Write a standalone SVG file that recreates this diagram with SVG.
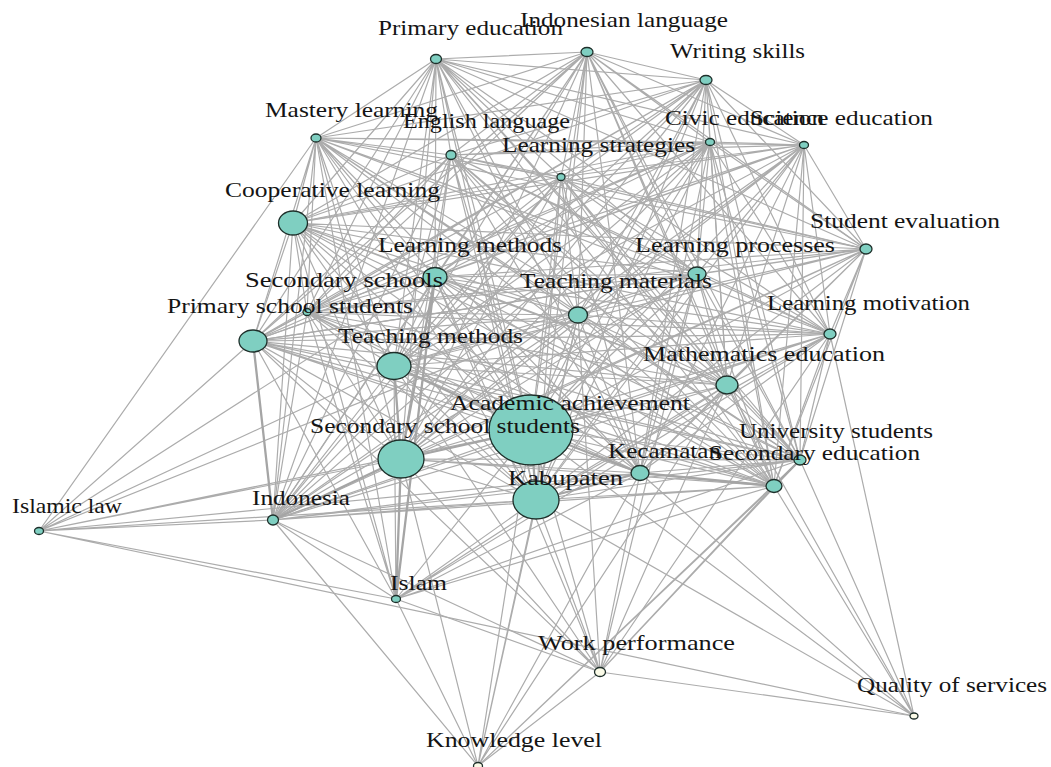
<svg xmlns="http://www.w3.org/2000/svg" width="1051" height="767" viewBox="0 0 1051 767">
<style>
.e{fill:none;stroke:#acacac;stroke-width:1.2}
.t{fill:none;stroke:#a5a5a5;stroke-width:2.3}
.n ellipse{fill:#7fcfc1;stroke:#1e2f2a;stroke-width:1.3}
.w ellipse{fill:#fbfbe8;stroke:#1e2f2a;stroke-width:1.3}
text{font-family:"Liberation Serif","Times New Roman",serif;font-size:22px;fill:#141414}
</style>
<rect width="1051" height="767" fill="#ffffff"/>
<g id="connectors">
<path class="e" d="M436 59L587 52M436 59L706 80M436 59L316 138M436 59L451 155M436 59L710 142M436 59L804 145M436 59L561 177M436 59L293 223M436 59L866 249M436 59L435 277M436 59L697 274M436 59L307 312M436 59L578 315M436 59L253 341M436 59L830 334M436 59L394 366M436 59L727 385M436 59L531 430M436 59L401 459M436 59L800 460M436 59L640 473M436 59L774 486M436 59L536 500M436 59L273 520"/>
<path class="e" d="M587 52L706 80M587 52L316 138M587 52L451 155M587 52L710 142M587 52L804 145M587 52L561 177M587 52L293 223M587 52L866 249M587 52L435 277M587 52L697 274M587 52L307 312M587 52L578 315M587 52L253 341M587 52L830 334M587 52L394 366M587 52L727 385M587 52L531 430M587 52L401 459M587 52L800 460M587 52L640 473M587 52L774 486M587 52L536 500M587 52L273 520"/>
<path class="e" d="M706 80L316 138M706 80L451 155M706 80L710 142M706 80L804 145M706 80L561 177M706 80L293 223M706 80L866 249M706 80L435 277M706 80L697 274M706 80L307 312M706 80L578 315M706 80L253 341M706 80L830 334M706 80L394 366M706 80L727 385M706 80L531 430M706 80L401 459M706 80L800 460M706 80L640 473M706 80L774 486M706 80L536 500M706 80L273 520"/>
<path class="e" d="M316 138L451 155M316 138L710 142M316 138L804 145M316 138L561 177M316 138L293 223M316 138L866 249M316 138L435 277M316 138L697 274M316 138L307 312M316 138L578 315M316 138L253 341M316 138L830 334M316 138L394 366M316 138L727 385M316 138L531 430M316 138L401 459M316 138L800 460M316 138L640 473M316 138L774 486M316 138L536 500M316 138L273 520"/>
<path class="e" d="M451 155L710 142M451 155L804 145M451 155L561 177M451 155L293 223M451 155L866 249M451 155L435 277M451 155L697 274M451 155L307 312M451 155L578 315M451 155L253 341M451 155L830 334M451 155L394 366M451 155L727 385M451 155L531 430M451 155L401 459M451 155L800 460M451 155L640 473M451 155L774 486M451 155L536 500M451 155L273 520"/>
<path class="e" d="M710 142L804 145M710 142L561 177M710 142L293 223M710 142L866 249M710 142L435 277M710 142L697 274M710 142L307 312M710 142L578 315M710 142L253 341M710 142L830 334M710 142L394 366M710 142L727 385M710 142L531 430M710 142L401 459M710 142L800 460M710 142L640 473M710 142L774 486M710 142L536 500M710 142L273 520"/>
<path class="e" d="M804 145L561 177M804 145L293 223M804 145L866 249M804 145L435 277M804 145L697 274M804 145L307 312M804 145L578 315M804 145L253 341M804 145L830 334M804 145L394 366M804 145L727 385M804 145L531 430M804 145L401 459M804 145L800 460M804 145L640 473M804 145L774 486M804 145L536 500M804 145L273 520"/>
<path class="e" d="M561 177L293 223M561 177L866 249M561 177L435 277M561 177L697 274M561 177L307 312M561 177L578 315M561 177L253 341M561 177L830 334M561 177L394 366M561 177L727 385M561 177L531 430M561 177L401 459M561 177L800 460M561 177L640 473M561 177L774 486M561 177L536 500M561 177L273 520"/>
<path class="e" d="M293 223L866 249M293 223L435 277M293 223L697 274M293 223L307 312M293 223L578 315M293 223L253 341M293 223L830 334M293 223L394 366M293 223L727 385M293 223L531 430M293 223L401 459M293 223L800 460M293 223L640 473M293 223L774 486M293 223L536 500M293 223L273 520"/>
<path class="e" d="M866 249L435 277M866 249L697 274M866 249L307 312M866 249L578 315M866 249L253 341M866 249L830 334M866 249L394 366M866 249L727 385M866 249L531 430M866 249L401 459M866 249L800 460M866 249L640 473M866 249L774 486M866 249L536 500M866 249L273 520"/>
<path class="e" d="M435 277L697 274M435 277L307 312M435 277L578 315M435 277L253 341M435 277L830 334M435 277L394 366M435 277L727 385M435 277L531 430M435 277L800 460M435 277L640 473M435 277L774 486M435 277L536 500M435 277L273 520"/>
<path class="e" d="M697 274L307 312M697 274L578 315M697 274L253 341M697 274L830 334M697 274L394 366M697 274L727 385M697 274L531 430M697 274L401 459M697 274L800 460M697 274L640 473M697 274L774 486M697 274L536 500M697 274L273 520"/>
<path class="e" d="M307 312L578 315M307 312L253 341M307 312L830 334M307 312L394 366M307 312L727 385M307 312L531 430M307 312L401 459M307 312L800 460M307 312L640 473M307 312L774 486M307 312L536 500M307 312L273 520"/>
<path class="e" d="M578 315L253 341M578 315L830 334M578 315L394 366M578 315L727 385M578 315L531 430M578 315L401 459M578 315L800 460M578 315L640 473M578 315L774 486M578 315L536 500M578 315L273 520"/>
<path class="e" d="M253 341L830 334M253 341L394 366M253 341L727 385M253 341L531 430M253 341L401 459M253 341L800 460M253 341L640 473M253 341L774 486M253 341L536 500"/>
<path class="e" d="M830 334L394 366M830 334L727 385M830 334L531 430M830 334L401 459M830 334L800 460M830 334L640 473M830 334L774 486M830 334L536 500M830 334L273 520"/>
<path class="e" d="M394 366L727 385M394 366L800 460M394 366L640 473M394 366L774 486M394 366L536 500M394 366L273 520"/>
<path class="e" d="M727 385L531 430M727 385L401 459M727 385L800 460M727 385L640 473M727 385L774 486M727 385L536 500M727 385L273 520"/>
<path class="e" d="M531 430L800 460M531 430L774 486M531 430L273 520M401 459L800 460M401 459L640 473M401 459L774 486M401 459L536 500M800 460L640 473M800 460L536 500M800 460L273 520M640 473L536 500M640 473L273 520M774 486L536 500M774 486L273 520M536 500L273 520"/>
<path class="e" d="M39 531L316 138M39 531L253 341M39 531L394 366M39 531L578 315M39 531L435 277M39 531L401 459M39 531L531 430M39 531L536 500M39 531L273 520M39 531L640 473M39 531L396 599M39 531L914 716"/>
<path class="e" d="M396 599L273 520M396 599L253 341M396 599L293 223M396 599L316 138M396 599L307 312M396 599L394 366M396 599L531 430M396 599L536 500M396 599L640 473M396 599L727 385M396 599L774 486M396 599L800 460M396 599L830 334M396 599L600 672M396 599L478 766"/>
<path class="e" d="M600 672L273 520M600 672L253 341M600 672L394 366M600 672L435 277M600 672L401 459M600 672L531 430M600 672L536 500M600 672L578 315M600 672L640 473M600 672L727 385M600 672L774 486M600 672L800 460M600 672L830 334M600 672L697 274M600 672L478 766M600 672L914 716"/>
<path class="e" d="M478 766L273 520M478 766L401 459M478 766L531 430M478 766L536 500M478 766L578 315M478 766L640 473M478 766L727 385M478 766L774 486M478 766L800 460"/>
<path class="e" d="M914 716L830 334M914 716L800 460M914 716L774 486M914 716L727 385M914 716L640 473M914 716L531 430M914 716L536 500"/>
<path class="t" d="M531 430L401 459M531 430L536 500M401 459L273 520M401 459L394 366M435 277L401 459M531 430L394 366M253 341L273 520M536 500L640 473M531 430L640 473M640 473L774 486M800 460L774 486M396 599L401 459M396 599L435 277"/>
</g>
<g id="node-academic-achievement" class="n"><ellipse cx="531" cy="430" rx="42" ry="35"/></g>
<g id="node-secondary-school-students" class="n"><ellipse cx="401" cy="459" rx="23" ry="19"/></g>
<g id="node-kabupaten" class="n"><ellipse cx="536" cy="500" rx="23" ry="19"/></g>
<g id="node-teaching-methods" class="n"><ellipse cx="394" cy="366" rx="17" ry="13.5"/></g>
<g id="node-cooperative-learning" class="n"><ellipse cx="293" cy="223" rx="14.5" ry="12"/></g>
<g id="node-primary-school-students" class="n"><ellipse cx="253" cy="341" rx="14" ry="11"/></g>
<g id="node-learning-methods" class="n"><ellipse cx="435" cy="277" rx="12" ry="9.5"/></g>
<g id="node-mathematics-education" class="n"><ellipse cx="727" cy="385" rx="11" ry="9"/></g>
<g id="node-teaching-materials" class="n"><ellipse cx="578" cy="315" rx="9.5" ry="8"/></g>
<g id="node-learning-processes" class="n"><ellipse cx="697" cy="274" rx="9" ry="7"/></g>
<g id="node-kecamatan" class="n"><ellipse cx="640" cy="473" rx="9" ry="7.5"/></g>
<g id="node-secondary-education" class="n"><ellipse cx="774" cy="486" rx="8" ry="6.5"/></g>
<g id="node-university-students" class="n"><ellipse cx="800" cy="460" rx="6" ry="5"/></g>
<g id="node-learning-motivation" class="n"><ellipse cx="830" cy="334" rx="6" ry="5"/></g>
<g id="node-student-evaluation" class="n"><ellipse cx="866" cy="249" rx="6" ry="5"/></g>
<g id="node-indonesian-language" class="n"><ellipse cx="587" cy="52" rx="6" ry="4.5"/></g>
<g id="node-primary-education" class="n"><ellipse cx="436" cy="59" rx="5.5" ry="4.5"/></g>
<g id="node-english-language" class="n"><ellipse cx="451" cy="155" rx="5" ry="4.5"/></g>
<g id="node-learning-strategies" class="n"><ellipse cx="561" cy="177" rx="4" ry="3.5"/></g>
<g id="node-writing-skills" class="n"><ellipse cx="706" cy="80" rx="6" ry="4.5"/></g>
<g id="node-civic-education" class="n"><ellipse cx="710" cy="142" rx="4.5" ry="3.5"/></g>
<g id="node-science-education" class="n"><ellipse cx="804" cy="145" rx="4.5" ry="3.5"/></g>
<g id="node-mastery-learning" class="n"><ellipse cx="316" cy="138" rx="5" ry="4"/></g>
<g id="node-secondary-schools" class="n"><ellipse cx="307" cy="312" rx="4" ry="3.5"/></g>
<g id="node-islamic-law" class="n"><ellipse cx="39" cy="531" rx="4.5" ry="3.5"/></g>
<g id="node-indonesia" class="n"><ellipse cx="273" cy="520" rx="5.5" ry="5"/></g>
<g id="node-islam" class="n"><ellipse cx="396" cy="599" rx="4.5" ry="3.5"/></g>
<g id="node-work-performance" class="w"><ellipse cx="600" cy="672" rx="5.5" ry="4.5"/></g>
<g id="node-quality-of-services" class="w"><ellipse cx="914" cy="716" rx="4" ry="3"/></g>
<g id="node-knowledge-level" class="w"><ellipse cx="478" cy="766" rx="4.5" ry="3.5"/></g>
<g id="labels">
<text x="378" y="35" textLength="185" lengthAdjust="spacingAndGlyphs">Primary education</text>
<text x="520" y="27" textLength="208" lengthAdjust="spacingAndGlyphs">Indonesian language</text>
<text x="670" y="58" textLength="135" lengthAdjust="spacingAndGlyphs">Writing skills</text>
<text x="265" y="117" textLength="173" lengthAdjust="spacingAndGlyphs">Mastery learning</text>
<text x="403" y="128" textLength="167" lengthAdjust="spacingAndGlyphs">English language</text>
<text x="665" y="125" textLength="159" lengthAdjust="spacingAndGlyphs">Civic education</text>
<text x="750" y="125" textLength="183" lengthAdjust="spacingAndGlyphs">Science education</text>
<text x="502" y="152" textLength="193" lengthAdjust="spacingAndGlyphs">Learning strategies</text>
<text x="225" y="197" textLength="215" lengthAdjust="spacingAndGlyphs">Cooperative learning</text>
<text x="810" y="228" textLength="190" lengthAdjust="spacingAndGlyphs">Student evaluation</text>
<text x="378" y="252" textLength="184" lengthAdjust="spacingAndGlyphs">Learning methods</text>
<text x="635" y="252" textLength="200" lengthAdjust="spacingAndGlyphs">Learning processes</text>
<text x="245" y="287" textLength="198" lengthAdjust="spacingAndGlyphs">Secondary schools</text>
<text x="520" y="288" textLength="192" lengthAdjust="spacingAndGlyphs">Teaching materials</text>
<text x="167" y="313" textLength="246" lengthAdjust="spacingAndGlyphs">Primary school students</text>
<text x="767" y="310" textLength="203" lengthAdjust="spacingAndGlyphs">Learning motivation</text>
<text x="338" y="343" textLength="185" lengthAdjust="spacingAndGlyphs">Teaching methods</text>
<text x="643" y="361" textLength="242" lengthAdjust="spacingAndGlyphs">Mathematics education</text>
<text x="450" y="410" textLength="240" lengthAdjust="spacingAndGlyphs">Academic achievement</text>
<text x="310" y="433" textLength="270" lengthAdjust="spacingAndGlyphs">Secondary school students</text>
<text x="739" y="438" textLength="194" lengthAdjust="spacingAndGlyphs">University students</text>
<text x="608" y="458" textLength="113" lengthAdjust="spacingAndGlyphs">Kecamatan</text>
<text x="709" y="460" textLength="211" lengthAdjust="spacingAndGlyphs">Secondary education</text>
<text x="508" y="485" textLength="115" lengthAdjust="spacingAndGlyphs">Kabupaten</text>
<text x="12" y="513" textLength="110" lengthAdjust="spacingAndGlyphs">Islamic law</text>
<text x="252" y="505" textLength="98" lengthAdjust="spacingAndGlyphs">Indonesia</text>
<text x="390" y="590" textLength="57" lengthAdjust="spacingAndGlyphs">Islam</text>
<text x="538" y="650" textLength="197" lengthAdjust="spacingAndGlyphs">Work performance</text>
<text x="857" y="692" textLength="190" lengthAdjust="spacingAndGlyphs">Quality of services</text>
<text x="426" y="747" textLength="176" lengthAdjust="spacingAndGlyphs">Knowledge level</text>
</g>
</svg>
